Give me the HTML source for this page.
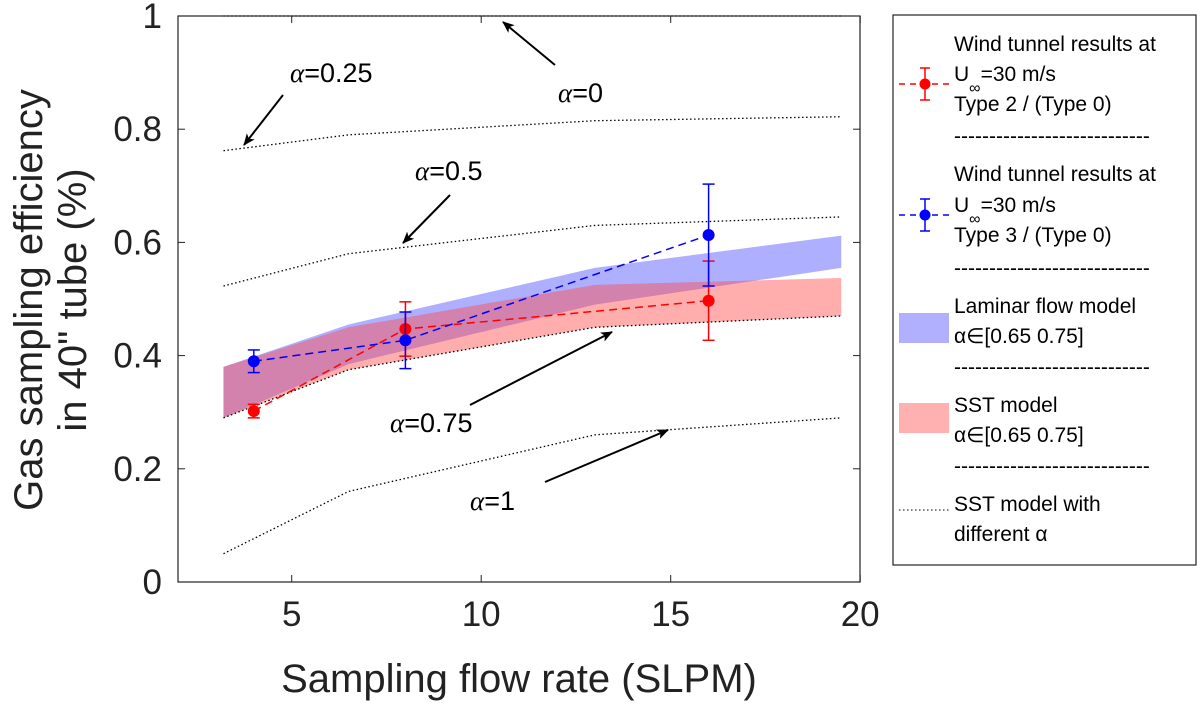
<!DOCTYPE html>
<html><head><meta charset="utf-8"><style>body{margin:0;background:#fff}svg{display:block;font-family:"Liberation Sans",sans-serif}</style></head>
<body>
<svg id="c" width="1200" height="704"></svg>
<script>
const curveX=[3.2,6.5,13,19.5];
const a0=[1,1,1,1];
const a025=[0.762,0.79,0.815,0.822];
const a05=[0.523,0.58,0.63,0.645];
const a075=[0.29,0.375,0.45,0.47];
const a1=[0.05,0.16,0.26,0.29];
const lamUpper=[0.38,0.455,0.555,0.612];
const lamLower=[0.29,0.385,0.49,0.555];
const sstUpper=[0.38,0.45,0.525,0.537];
const sstLower=[0.29,0.375,0.45,0.47];
const ptX=[4,8,16];
const redY=[0.302,0.447,0.497];
const redErr=[0.012,0.048,0.07];
const blueY=[0.39,0.427,0.613];
const blueErr=[0.02,0.05,0.09];
const xTicks=[5,10,15,20];
const yTicks=[0,0.2,0.4,0.6,0.8,1];
const yTickLabels=["0","0.2","0.4","0.6","0.8","1"];
const X=v=>178+(v-2)*37.9, Y=v=>582-566*v;
const svg=document.getElementById('c');const NS='http://www.w3.org/2000/svg';
function el(t,a,p){const e=document.createElementNS(NS,t);for(const k in a)e.setAttribute(k,a[k]);(p||svg).appendChild(e);return e;}
function txt(s,a,name){const e=el('text',a);e.innerHTML=s;return e;}
const defs=el('defs',{});
const m=el('marker',{id:'ah',markerWidth:12,markerHeight:10,refX:11,refY:5,orient:'auto',markerUnits:'userSpaceOnUse'},defs);
el('path',{d:'M0,0 L12,5 L0,10 L3,5 Z',fill:'#000'},m);
function band(u,l,fill,op,name){let d='';curveX.forEach((x,i)=>d+=(i?'L':'M')+X(x)+','+Y(u[i]));for(let i=curveX.length-1;i>=0;i--)d+='L'+X(curveX[i])+','+Y(l[i]);const p=el('path',{d:d+'Z',fill:fill,'fill-opacity':op,stroke:'none'});

}
band(lamUpper,lamLower,'#6060ff',0.5,'laminar-band');
band(sstUpper,sstLower,'#ff4a4a',0.45,'sst-band');
[[a0,'alpha-0'],[a025,'alpha-0.25'],[a05,'alpha-0.5'],[a075,'alpha-0.75'],[a1,'alpha-1']].forEach(([arr,n])=>{
const p=el('polyline',{points:curveX.map((x,i)=>X(x)+','+Y(arr[i])).join(' '),fill:'none',stroke:'#000','stroke-width':1.3,'stroke-dasharray':'1.5 2.5'});

});
function series(ys,es,col,name){
const l=el('polyline',{points:ptX.map((x,i)=>X(x)+','+Y(ys[i])).join(' '),fill:'none',stroke:col,'stroke-width':1.5,'stroke-dasharray':'8 5'});


ptX.forEach((x,i)=>{const cx=X(x);const g=el('g',{stroke:col,'stroke-width':1.5});


el('line',{x1:cx,x2:cx,y1:Y(ys[i]+es[i]),y2:Y(ys[i]-es[i])},g);
el('line',{x1:cx-6,x2:cx+6,y1:Y(ys[i]+es[i]),y2:Y(ys[i]+es[i])},g);
el('line',{x1:cx-6,x2:cx+6,y1:Y(ys[i]-es[i]),y2:Y(ys[i]-es[i])},g);
el('circle',{cx:cx,cy:Y(ys[i]),r:6,fill:col,stroke:'none'},g);});}
series(redY,redErr,'#ff0000','type2');
series(blueY,blueErr,'#0000ff','type3');
const ax=el('rect',{x:178,y:16,width:682,height:566,fill:'none',stroke:'#222','stroke-width':1.2});

xTicks.forEach(t=>{el('line',{x1:X(t),x2:X(t),y1:582,y2:575,stroke:'#222'});el('line',{x1:X(t),x2:X(t),y1:16,y2:23,stroke:'#222'});
txt(t,{x:X(t),y:626,'font-size':35,'text-anchor':'middle',fill:'#222'},'x-tick-label');});
yTicks.forEach((t,i)=>{el('line',{x1:178,x2:185,y1:Y(t),y2:Y(t),stroke:'#222'});el('line',{x1:853,x2:860,y1:Y(t),y2:Y(t),stroke:'#222'});
txt(yTickLabels[i],{x:162,y:Y(t)+12,'font-size':35,'text-anchor':'end',fill:'#222'},'y-tick-label');});
txt('Sampling flow rate (SLPM)',{x:519,y:692,'font-size':40,'text-anchor':'middle',fill:'#222'},'x-axis-title');
txt('Gas sampling efficiency',{x:0,y:0,'font-size':40,'text-anchor':'middle',fill:'#222',transform:'translate(42,300) rotate(-90)'},'y-axis-title');
txt('in 40" tube (%)',{x:0,y:0,'font-size':40,'text-anchor':'middle',fill:'#222',transform:'translate(86,300) rotate(-90)'},'y-axis-title-2');
const ann=[['α=0',558,102,555,65,503,22],['α=0.25',290,82,283,95,244,145],['α=0.5',415,180,450,195,403,243],['α=0.75',390,432,470,405,612,332],['α=1',470,510,545,482,668,430]];
ann.forEach(a=>{txt('<tspan font-family="Liberation Serif" font-style="italic">α</tspan>'+a[0].slice(1),{x:a[1],y:a[2],'font-size':27,fill:'#000'},'annotation');
const l=el('line',{x1:a[3],y1:a[4],x2:a[5],y2:a[6],stroke:'#000','stroke-width':2,'marker-end':'url(#ah)'});
});
const lg=el('rect',{x:893,y:15,width:303,height:550,fill:'#fff',stroke:'#222','stroke-width':1.2});

const L=[['Wind tunnel results at',28],['U<tspan dy="12" font-size="16">∞</tspan><tspan dy="-12">=30 m/s</tspan>',58],['Type 2 / (Type 0)',88],['----------------------------',120],
['Wind tunnel results at',158],['U<tspan dy="12" font-size="16">∞</tspan><tspan dy="-12">=30 m/s</tspan>',189],['Type 3 / (Type 0)',219],['----------------------------',252],
['Laminar flow model',290],['α∈[0.65 0.75]',320],['----------------------------',351],['SST model',389],['α∈[0.65 0.75]',419],['----------------------------',450],['SST model with',488],['different α',518]];
L.forEach(l=>txt(l[0],{x:954,y:15+l[1]+8,'font-size':21,fill:'#000'},'legend-text'));
function lgPt(y,col){const g=el('g',{stroke:col,'stroke-width':1.5});

el('line',{x1:899,x2:950,y1:y,y2:y,'stroke-dasharray':'6 5'},g);el('line',{x1:925,x2:925,y1:y-16,y2:y+16},g);
el('line',{x1:920,x2:930,y1:y-16,y2:y-16},g);el('line',{x1:920,x2:930,y1:y+16,y2:y+16},g);el('circle',{cx:925,cy:y,r:5.5,fill:col,stroke:'none'},g);}
lgPt(84,'#ff0000');lgPt(215,'#0000ff');
const r1=el('rect',{x:899,y:313,width:50,height:30,fill:'#b0b0ff'});
const r2=el('rect',{x:899,y:403,width:50,height:30,fill:'#ffb0b0'});
const d=el('line',{x1:899,x2:950,y1:510,y2:510,stroke:'#000','stroke-dasharray':'1.5 2.5'});
</script>
</body></html>
